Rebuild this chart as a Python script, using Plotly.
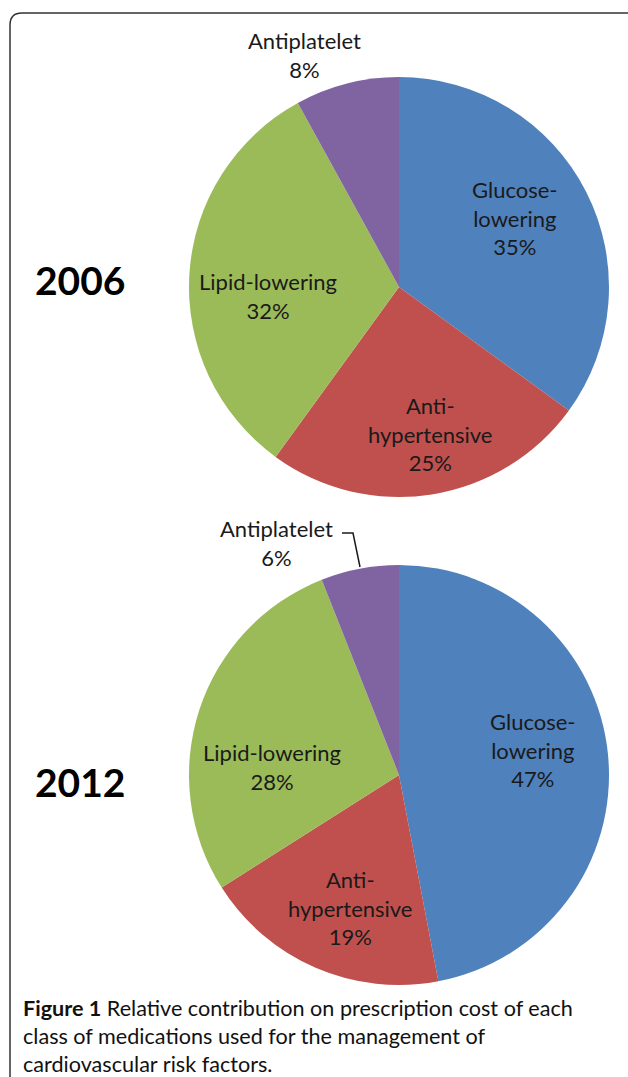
import plotly.graph_objects as go

W, H = 628, 1077

categories = ["Glucose-lowering", "Anti-hypertensive", "Lipid-lowering", "Antiplatelet"]
label_text = ["Glucose-<br>lowering", "Anti-<br>hypertensive", "Lipid-lowering", "Antiplatelet"]
colors = ["#4F81BD", "#C0504D", "#9BBB59", "#8064A2"]
values_2006 = [35, 25, 32, 8]
values_2012 = [47, 19, 28, 6]
years = ["2006", "2012"]

caption_bold = "Figure 1"
caption_rest = ("Relative contribution on prescription cost of each<br>"
                "class of medications used for the management of<br>"
                "cardiovascular risk factors.")


def px(x):
    return x / W


def py(y):
    return 1 - y / H


fig = go.Figure()

pie_boxes = [(189, 609, 77, 497), (189, 609, 565, 985)]
for vals, (x0, x1, y0, y1) in zip([values_2006, values_2012], pie_boxes):
    fig.add_trace(go.Pie(
        labels=categories,
        values=vals,
        sort=False,
        direction="clockwise",
        rotation=0,
        marker=dict(colors=colors, line=dict(width=0)),
        textinfo="none",
        hoverinfo="label+percent",
        showlegend=False,
        domain=dict(x=[px(x0), px(x1)], y=[py(y1), py(y0)]),
    ))

label_font = dict(family="Lato", size=22, color="#1a1a1a")

# label centers (pixels) per pie, in category order
label_pos = [
    [(515, 218), (430, 434), (268, 296), (304, 55)],
    [(533, 750), (350, 908), (272, 767), (276, 543)],
]
for vals, poss in zip([values_2006, values_2012], label_pos):
    for name, v, (x, y) in zip(label_text, vals, poss):
        fig.add_annotation(
            x=px(x), y=py(y), xref="paper", yref="paper",
            text=f"{name}<br>{v}%", showarrow=False,
            font=label_font, align="center",
            xanchor="center", yanchor="middle",
        )

# year labels
for yr, y in zip(years, [280, 782]):
    fig.add_annotation(
        x=px(80), y=py(y), xref="paper", yref="paper",
        text=f"<b>{yr}</b>", showarrow=False,
        font=dict(family="Lato", size=39, color="#000000"),
        xanchor="center", yanchor="middle",
    )

# caption
fig.add_annotation(
    x=px(21), y=py(993), xref="paper", yref="paper",
    text=f"<b>{caption_bold}</b> {caption_rest}", showarrow=False,
    font=dict(family="Lato", size=21.6, color="#111111"),
    align="left", xanchor="left", yanchor="top",
)

# leader line for 2012 antiplatelet
fig.add_shape(
    type="path", xref="paper", yref="paper",
    path=f"M {px(342)} {py(533)} L {px(353)} {py(533)} L {px(360)} {py(567)}",
    line=dict(color="#1a1a1a", width=1.5),
)

# rounded border box
r = 12
x0, y0, x1, y1 = 10, 13, 640, 1100
path = (f"M {px(x0)} {py(y1)} L {px(x0)} {py(y0 + r)} "
        f"Q {px(x0)} {py(y0)} {px(x0 + r)} {py(y0)} L {px(x1)} {py(y0)}")
fig.add_shape(type="path", xref="paper", yref="paper", path=path,
              line=dict(color="#333333", width=1.5))

fig.update_layout(
    width=W, height=H,
    margin=dict(l=0, r=0, t=0, b=0),
    paper_bgcolor="white",
    plot_bgcolor="white",
)

fig.write_html("out.html", config={"displayModeBar": False},
               post_script="document.body.style.margin='0';")
